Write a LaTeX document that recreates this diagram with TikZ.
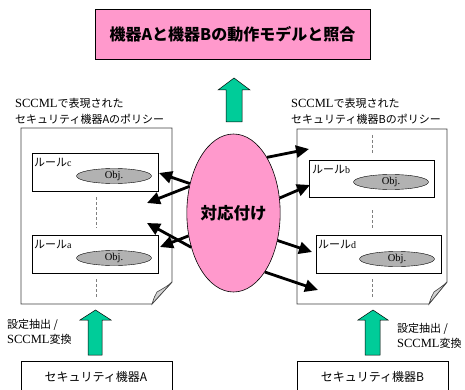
\documentclass[tikz,border=0pt]{standalone}
\usepackage{fontspec}
\setmainfont{Liberation Serif}
\newfontfamily\jp{Noto Sans CJK JP}
\usetikzlibrary{arrows.meta,shapes.geometric}
\definecolor{pinkA}{HTML}{FF99CC}
\definecolor{greenA}{HTML}{00CC99}
\definecolor{objgray}{HTML}{B2B2B2}
\newcommand\La[1]{{\rmfamily\fontsize{12.5}{12}\selectfont #1}}
\newcommand\Sb[1]{{\rmfamily\fontsize{10}{10}\selectfont #1}}
\begin{document}
\begin{tikzpicture}[x=1pt,y=-1pt,
 doc/.style={draw=black!75, fill=white, line width=0.8pt},
 rulebox/.style={draw=black, fill=white, line width=0.6pt, inner sep=0pt, outer sep=0pt, anchor=north west},
 obj/.style={ellipse, draw=black, fill=objgray, minimum width=75pt, minimum height=15pt, inner sep=0pt, font=\rmfamily\fontsize{10.5}{10}\selectfont},
 dots/.style={draw=gray, line width=0.7pt, dash pattern=on 3pt off 2pt},
 link/.style={line width=2.8pt, -{Triangle[length=13pt,width=12pt]}},
 bigarrow/.style={draw=black, fill=greenA, line width=0.5pt},
 lbl/.style={font=\jp\fontsize{11}{12}\selectfont, inner sep=0pt, anchor=west},
 rlbl/.style={font=\jp\fontsize{11}{12}\selectfont, inner sep=0pt, anchor=north west},
 fold/.style={draw=black!75, fill=gray!35, line width=0.6pt},
 devbox/.style={draw=black, fill=white, line width=0.6pt}
]
\useasboundingbox (0,0) rectangle (465,390);

% title
\node[draw=black, fill=pinkA, line width=0.6pt, minimum width=275pt, minimum height=50pt, inner sep=0pt,
  font=\jp\bfseries\fontsize{16}{16}\selectfont] (title) at (232.5,34) {機器Aと機器Bの動作モデルと照合};

% top green arrow
\draw[bigarrow] (226,122) -- (226,90) -- (218,90) -- (234,78) -- (250,90) -- (242,90) -- (242,122) -- cycle;

% left document
\node[lbl] (lt1) at (15,103) {\La{SCCML}で表現された};
\node[lbl] (lt2) at (15,119) {セキュリティ機器Aのポリシー};
\draw[doc] (21,128) -- (172,128) -- (172,282) -- (152,304) -- (21,304) -- cycle;
\draw[fold] (172,282) -- (152,304) .. controls (154,298) and (155,295) .. (157,292) .. controls (162,289) and (168,286) .. (172,282) -- cycle;
\node[rulebox, minimum width=126pt, minimum height=38pt] (rc) at (32,153) {};
\node[rlbl] (rcl) at (34,158) {ルール\Sb{c}};
\node[obj] (oc) at (114,176) {Obj.};
\draw[dots] (96,197) -- (96,228);
\node[rulebox, minimum width=126pt, minimum height=38pt] (ra) at (32,235) {};
\node[rlbl] (ral) at (34,240) {ルール\Sb{a}};
\node[obj] (oa) at (114,258) {Obj.};
\draw[dots] (96,279) -- (96,298);

% right document
\node[lbl] (rt1) at (291,103) {\La{SCCML}で表現された};
\node[lbl] (rt2) at (291,119) {セキュリティ機器Bのポリシー};
\draw[doc] (297,129) -- (447,129) -- (447,282) -- (429,304) -- (297,304) -- cycle;
\draw[fold] (447,282) -- (429,304) .. controls (431,298) and (432,295) .. (434,292) .. controls (438,289) and (443,286) .. (447,282) -- cycle;
\draw[dots] (372,135) -- (372,153);
\node[rulebox, minimum width=125pt, minimum height=37pt] (rb) at (309,160) {};
\node[rlbl] (rbl) at (312,165) {ルール\Sb{b}};
\node[obj] (ob) at (391,182) {Obj.};
\draw[dots] (372,210) -- (372,228);
\node[rulebox, minimum width=125pt, minimum height=38pt] (rd) at (316,235) {};
\node[rlbl] (rdl) at (318,240) {ルール\Sb{d}};
\node[obj] (od) at (397,259) {Obj.};
\draw[dots] (372,279) -- (372,298);

% mapping ellipse
\node[ellipse, draw=black, fill=pinkA, line width=0.6pt, minimum width=79pt, minimum height=158pt, inner sep=0pt,
  font=\jp\bfseries\fontsize{16.5}{17}\selectfont] (map) at (233.5,213) {対応付け};

% arrow tips
\coordinate (l1) at (159,173);
\coordinate (l2) at (147,203);
\coordinate (l3) at (147,223);
\coordinate (l4) at (160,247);
\coordinate (r1) at (309,149);
\coordinate (r2) at (310,185);
\coordinate (r3) at (312,252);
\coordinate (r4) at (318,290);

\draw[link] (map.146) -- (l1);
\draw[link] (map.149) -- (l2);
\draw[link] (map.219) -- (l3);
\draw[link] (map.207) -- (l4);
\draw[link] (map.59) -- (r1);
\draw[link] (map.18) -- (r2);
\draw[link] (map.-32) -- (r3);
\draw[link] (map.-62) -- (r4);

% bottom
\draw[bigarrow] (88,355) -- (88,320) -- (80,320) -- (95.5,310) -- (111,320) -- (102,320) -- (102,355) -- cycle;
\draw[bigarrow] (365,355) -- (365,320) -- (358,320) -- (373,310) -- (388,320) -- (380,320) -- (380,355) -- cycle;
\node[lbl] (ll1) at (7,325) {設定抽出 /};
\node[lbl] (ll2) at (7,339) {\La{SCCML}変換};
\node[lbl] (rl1) at (397,329) {設定抽出 /};
\node[lbl] (rl2) at (397,343) {\La{SCCML}変換};
\draw[devbox] (21,396) -- (21,361) -- (172,361) -- (172,396);
\draw[devbox] (297,396) -- (297,361) -- (448,361) -- (448,396);
\node[font=\jp\fontsize{12}{12}\selectfont, inner sep=0pt] (devA) at (96,377) {セキュリティ機器A};
\node[font=\jp\fontsize{12}{12}\selectfont, inner sep=0pt] (devB) at (372.5,377) {セキュリティ機器B};
\end{tikzpicture}
\end{document}
